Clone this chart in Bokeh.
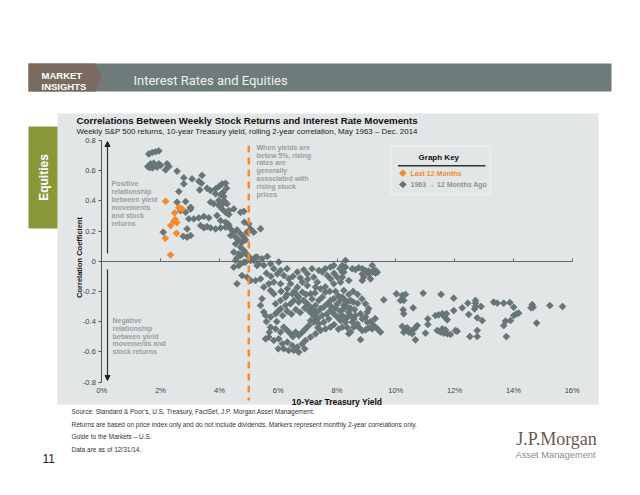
import math
from bokeh.plotting import figure
from bokeh.models import (LinearAxis, FixedTicker, Label, BoxAnnotation, PolyAnnotation,
                          Arrow, NormalHead, Range1d, CustomJSTickFormatter)
from bokeh.embed import file_html
from bokeh.resources import INLINE

# ---------------- data (10-yr yield %, 2-yr rolling correlation) ----------------
early_low_yield = [
    (1.60, 0.71), (1.72, 0.72), (1.83, 0.725), (1.94, 0.73), (1.56, 0.627), (1.66, 0.645),
    (1.77, 0.649), (1.94, 0.645), (2.00, 0.634), (1.88, 0.623), (2.22, 0.645), (2.28, 0.627),
    (2.17, 0.605), (1.62, 0.62), (1.72, 0.618), (2.56, 0.596),
]
positive_band = [
    (2.79, 0.552), (3.07, 0.545), (3.41, 0.569), (2.79, 0.512), (3.30, 0.530), (3.39, 0.516),
    (3.33, 0.472), (3.58, 0.483), (3.70, 0.468), (3.87, 0.479), (3.98, 0.494), (4.09, 0.512),
    (4.21, 0.516), (4.24, 0.483), (4.13, 0.457), (3.87, 0.446), (4.04, 0.441), (4.15, 0.428),
    (2.62, 0.461), (2.56, 0.391), (3.70, 0.391), (3.81, 0.380), (3.98, 0.369), (4.09, 0.346),
    (4.21, 0.324), (4.32, 0.309), (2.85, 0.395), (3.02, 0.357), (2.68, 0.335), (2.85, 0.324),
    (3.02, 0.346), (2.96, 0.280), (3.13, 0.280), (3.30, 0.287), (3.47, 0.296), (3.64, 0.287),
    (3.36, 0.236), (3.47, 0.221), (3.58, 0.229), (3.70, 0.221), (3.87, 0.214), (4.04, 0.221),
    (4.21, 0.225), (4.29, 0.247), (2.90, 0.214), (2.77, 0.165), (2.90, 0.159), (3.02, 0.170),
    (2.09, 0.192), (3.92, 0.302), (4.04, 0.269), (4.21, 0.258), (4.32, 0.236), (4.38, 0.214),
    (4.49, 0.192), (4.60, 0.207), (4.72, 0.181), (4.83, 0.159), (4.38, 0.170), (4.55, 0.159),
    (4.66, 0.137), (4.77, 0.126), (4.89, 0.141), (4.55, 0.115), (4.72, 0.093), (4.83, 0.071),
    (4.92, 0.048), (5.00, 0.031), (4.72, 0.037), (4.60, 0.022), (4.49, -0.040), (4.66, -0.029),
    (4.83, -0.007), (5.06, 0.004), (5.23, 0.026), (5.28, -0.029), (4.72, 0.324), (4.85, 0.258),
    (4.26, 0.380), (4.32, 0.335), (4.49, 0.346), (5.00, 0.247), (5.06, 0.214), (5.17, 0.192),
    (4.94, 0.192), (3.98, 0.402), (4.15, 0.402), (4.09, 0.375), (5.40, 0.215), (4.83, 0.330),
]
main_cluster = [
    (4.49, 0.060), (4.66, 0.049), (4.83, 0.053), (4.55, 0.005), (4.72, -0.017), (4.89, -0.006),
    (5.06, 0.016), (5.17, 0.005), (5.28, 0.027), (5.45, 0.016), (5.34, -0.017), (5.51, -0.028),
    (5.63, 0.031), (5.74, -0.017), (5.85, -0.050), (6.02, -0.006), (6.08, -0.061), (5.97, -0.084),
    (6.19, -0.095), (6.36, -0.117), (6.65, -0.072), (6.87, -0.057), (6.99, -0.084), (7.21, -0.106),
    (7.38, -0.061), (7.50, -0.072), (7.67, -0.095), (7.78, -0.117), (7.89, -0.150), (8.01, -0.106),
    (8.18, -0.072), (8.29, -0.039), (8.40, -0.128), (7.78, -0.039), (7.89, -0.028), (4.60, -0.150),
    (4.77, -0.095), (4.94, -0.106), (5.06, -0.128), (5.23, -0.128), (5.40, -0.117), (5.51, -0.172),
    (5.68, -0.150), (5.85, -0.139), (6.08, -0.150), (6.31, -0.183), (6.42, -0.150), (6.65, -0.172),
    (6.82, -0.139), (6.99, -0.161), (6.82, -0.205), (6.65, -0.227), (6.48, -0.216), (6.25, -0.238),
    (6.08, -0.260), (5.91, -0.282), (5.85, -0.216), (5.74, -0.194), (5.45, -0.249), (5.40, -0.293),
    (5.51, -0.337), (5.57, -0.359), (5.74, -0.370), (5.91, -0.348), (6.08, -0.315), (6.25, -0.293),
    (6.42, -0.282), (6.53, -0.260), (6.70, -0.271), (6.87, -0.260), (6.99, -0.282), (7.10, -0.304),
    (7.27, -0.293), (7.38, -0.260), (7.50, -0.238), (7.61, -0.205), (7.44, -0.183), (7.27, -0.172),
    (7.33, -0.139), (7.10, -0.216), (7.21, -0.326), (7.33, -0.337), (7.44, -0.315), (7.55, -0.304),
    (7.67, -0.282), (7.78, -0.260), (7.89, -0.249), (8.01, -0.282), (8.12, -0.260), (8.23, -0.293),
    (8.35, -0.271), (7.78, -0.326), (7.89, -0.348), (8.01, -0.370), (8.12, -0.393), (8.29, -0.382),
    (8.40, -0.359), (7.16, -0.348), (7.27, -0.370), (7.10, -0.393), (7.21, -0.404), (7.38, -0.415),
    (7.55, -0.404), (7.72, -0.382), (5.74, -0.437), (5.91, -0.448), (6.08, -0.470), (6.19, -0.437),
    (6.31, -0.459), (6.42, -0.481), (6.59, -0.470), (6.70, -0.492), (6.82, -0.470), (6.93, -0.448),
    (7.04, -0.426), (7.44, -0.459), (7.61, -0.448), (7.78, -0.437), (5.68, -0.503), (5.57, -0.514),
    (5.85, -0.525), (6.02, -0.514), (6.14, -0.547), (6.31, -0.536), (6.48, -0.558), (6.65, -0.569),
    (6.82, -0.547), (6.93, -0.525), (7.10, -0.503), (7.27, -0.481), (6.53, -0.591), (6.70, -0.602),
    (6.36, -0.591), (6.19, -0.580),
]
dense_core = [
    (6.00, -0.33), (6.15, -0.36), (6.30, -0.33), (6.45, -0.35), (6.60, -0.32), (6.75, -0.34),
    (6.90, -0.31), (7.05, -0.33), (7.20, -0.36), (7.35, -0.38), (7.50, -0.36), (7.65, -0.35),
    (7.80, -0.30), (7.95, -0.31), (8.10, -0.33), (8.30, -0.30), (8.45, -0.31), (8.60, -0.32),
    (8.70, -0.28), (8.55, -0.27), (8.40, -0.22), (8.55, -0.20), (8.70, -0.22), (8.85, -0.25),
    (6.10, -0.20), (6.30, -0.22), (6.55, -0.20), (6.70, -0.24), (6.95, -0.22), (7.15, -0.25),
    (7.25, -0.21), (7.60, -0.17), (7.75, -0.20), (7.95, -0.20), (8.05, -0.23), (5.60, -0.08),
    (5.75, -0.10), (6.30, -0.05), (6.50, -0.10), (6.75, -0.11), (7.00, -0.12), (7.15, -0.05),
    (7.60, -0.05), (7.90, -0.08), (8.10, -0.05), (5.60, -0.40), (5.70, -0.47), (5.95, -0.40),
    (6.00, -0.58), (6.50, -0.50), (6.90, -0.58), (7.35, -0.44), (7.90, -0.42), (8.05, -0.45),
    (8.35, -0.44), (8.40, -0.48), (9.15, -0.40), (9.30, -0.38),
]
high_yield_era = [
    (8.29, 0.005), (8.52, -0.050), (8.63, -0.055), (8.74, -0.044), (8.86, -0.050), (8.97, -0.061),
    (9.08, -0.066), (9.20, -0.073), (9.31, -0.079), (9.37, -0.073), (8.86, -0.084), (8.91, -0.106),
    (9.14, -0.117), (8.86, -0.128), (9.20, -0.028), (9.25, -0.061), (9.03, -0.073), (9.08, -0.084),
    (9.31, -0.061), (8.18, -0.028), (8.23, -0.073), (8.18, -0.106), (8.12, -0.139), (8.23, -0.194),
    (8.18, -0.238), (8.29, -0.260), (8.46, -0.260), (8.23, -0.315), (8.40, -0.337), (8.18, -0.359),
    (8.35, -0.370), (8.46, -0.359), (8.57, -0.382), (8.63, -0.359), (8.52, -0.404), (8.69, -0.415),
    (8.29, -0.404), (8.18, -0.437), (8.57, -0.437), (8.46, -0.470), (8.74, -0.437), (8.86, -0.459),
    (8.97, -0.455), (9.08, -0.441), (9.20, -0.448), (9.25, -0.426), (9.37, -0.448), (9.48, -0.470),
    (9.03, -0.404), (8.97, -0.370), (9.03, -0.337), (8.97, -0.282), (9.08, -0.315), (8.80, -0.348),
    (8.86, -0.382), (9.59, -0.256), (8.80, -0.520), (10.02, -0.216), (10.22, -0.227), (10.33, -0.220),
    (10.27, -0.260), (10.16, -0.260), (10.25, -0.322), (10.27, -0.348), (10.59, -0.309), (10.22, -0.432),
    (10.33, -0.448), (10.44, -0.470), (10.56, -0.459), (10.67, -0.441), (10.73, -0.426), (10.39, -0.441),
    (10.27, -0.470), (10.67, -0.521), (10.56, -0.481), (11.09, -0.382), (11.09, -0.419), (11.01, -0.477),
    (10.93, -0.212), (11.35, -0.360), (11.46, -0.355), (11.58, -0.348), (11.66, -0.370), (11.75, -0.388),
    (11.72, -0.348), (11.54, -0.220), (11.97, -0.245), (11.41, -0.459), (11.52, -0.470), (11.63, -0.477),
    (11.75, -0.481), (11.86, -0.485), (11.69, -0.455), (11.58, -0.448), (12.03, -0.459),
]
peak_yield_era = [
    (11.97, -0.327), (12.26, -0.309), (12.45, -0.278), (12.48, -0.353), (12.71, -0.260), (12.71, -0.278),
    (12.71, -0.300), (12.68, -0.316), (12.90, -0.300), (12.77, -0.375), (12.94, -0.393), (12.09, -0.464),
    (12.77, -0.459), (12.77, -0.499), (12.52, -0.499), (13.33, -0.271), (13.45, -0.278), (13.67, -0.278),
    (13.88, -0.274), (14.01, -0.305), (14.01, -0.360), (14.10, -0.349), (14.18, -0.344), (13.90, -0.393),
    (13.73, -0.397), (13.67, -0.426), (13.76, -0.499), (14.64, -0.287), (14.67, -0.305), (14.60, -0.309),
    (14.79, -0.410), (15.24, -0.294), (15.67, -0.300),
]
last_12_months_yield = [2.17, 2.48, 2.62, 2.68, 2.73, 2.50, 2.45, 2.55, 2.34, 2.54, 2.16, 2.34]
last_12_months_corr = [0.397, 0.320, 0.355, 0.350, 0.345, 0.275, 0.265, 0.255, 0.236, 0.185, 0.152, 0.042]

x_ticks = [0, 2, 4, 6, 8, 10, 12, 14, 16]
x_tick_labels = ["0%", "2%", "4%", "6%", "8%", "10%", "12%", "14%", "16%"]
y_ticks = [-0.8, -0.6, -0.4, -0.2, 0, 0.2, 0.4, 0.6, 0.8]
y_tick_labels = ["-0.8", "-0.6", "-0.4", "-0.2", "0", "0.2", "0.4", "0.6", "0.8"]
threshold_yield = 5.0

gray_pts = early_low_yield + positive_band + main_cluster + dense_core + high_yield_era + peak_yield_era
gray_x = [a for a, b in gray_pts]
gray_y = [b for a, b in gray_pts]

# ---------------- styling ----------------
PANEL = "#e2e6e6"
GRAY = "#687575"
ORANGE = "#f5892b"
NOTE = "#9aa0a0"
SANS = "Liberation Sans"
MSIZE = 4.8

W, H = 624, 479
OFF = 0          # page offset of the canvas
# page-pixel position of x=0 / y=0 and pixels per unit (frame covers the whole canvas)
X0, XS = 101.3, 29.4
Y0, YS = 260.7, 151.0


def dx(px):
    return (px - X0) / XS


def dy(py):
    return (Y0 - py) / YS


p = figure(width=W, height=H, output_backend="svg", toolbar_location=None, title=None,
           x_range=Range1d(dx(OFF), dx(OFF + W)), y_range=Range1d(dy(OFF + H), dy(OFF)),
           x_axis_location=None, y_axis_location=None,
           min_border=0, background_fill_color="white", border_fill_color="white",
           outline_line_color=None)
p.grid.visible = False


def box(l, t, r, b, color, level="underlay", line_color=None, line_width=1, alpha=1.0):
    p.add_layout(BoxAnnotation(left=dx(l), right=dx(r), top=dy(t), bottom=dy(b),
                               fill_color=color, fill_alpha=alpha, line_color=line_color,
                               line_width=line_width, level=level))


def label(px, py, text, size, color, bold=False, font=SANS, align="left", angle=0.0):
    p.add_layout(Label(x=dx(px), y=dy(py), text=text, text_font=font,
                       text_font_size=f"{size}px", text_color=color,
                       text_font_style="bold" if bold else "normal",
                       text_align=align, text_baseline="middle", angle=angle))


# slide decorations
box(57, 113, 598, 404, PANEL)
box(28, 63, 611, 91, "#6f7b7b")
p.add_layout(PolyAnnotation(xs=[dx(28), dx(95), dx(101), dx(95), dx(28)],
                            ys=[dy(63), dy(63), dy(77), dy(91), dy(91)],
                            fill_color="#7a6a60", fill_alpha=1, line_color=None, level="underlay"))
label(41, 75, "MARKET", 9.5, "white", bold=True)
label(41, 86, "INSIGHTS", 9.5, "white", bold=True)
label(133, 80, "Interest Rates and Equities", 13, "#eef1ef", font="Roboto")
box(28, 126, 57, 228, "#8a9739")
label(43, 177, "Equities", 12, "white", bold=True, align="center", angle=math.pi / 2)

label(76, 120, "Correlations Between Weekly Stock Returns and Interest Rate Movements", 9.7, "#111", bold=True)
label(76, 131, "Weekly S&P 500 returns, 10-year Treasury yield, rolling 2-year correlation, May 1963 \u2013 Dec. 2014",
      7.9, "#222")

# axis titles
label(79, 257, "Correlation Coefficient", 7.5, "#111", bold=True, align="center", angle=math.pi / 2)
label(336.5, 401, "10-Year Treasury Yield", 8.5, "#111", bold=True, align="center")

# explanatory notes
for i, t in enumerate(["Positive", "relationship", "between yield", "movements", "and stock", "returns"]):
    label(111, 183.3 + 7.9 * i, t, 7, NOTE, bold=True)
for i, t in enumerate(["Negative", "relationship", "between yield", "movements and", "stock returns"]):
    label(112, 320 + 7.75 * i, t, 7, NOTE, bold=True)
for i, t in enumerate(["When yields are", "below 5%, rising", "rates are", "generally",
                       "associated with", "rising stock", "prices"]):
    label(256, 146.7 + 7.8 * i, t, 7, NOTE, bold=True)

# arrows
p.add_layout(Arrow(end=NormalHead(size=5, fill_color="#222", line_color="#222"),
                   x_start=dx(107), y_start=dy(253), x_end=dx(107), y_end=dy(141),
                   line_color="#333", line_width=1.2))
p.add_layout(Arrow(end=NormalHead(size=5, fill_color="#222", line_color="#222"),
                   x_start=dx(107), y_start=dy(269), x_end=dx(107), y_end=dy(380),
                   line_color="#333", line_width=1.2))

# axes (fixed at data coordinates inside the full-canvas frame)
yaxis = LinearAxis(fixed_location=0, ticker=FixedTicker(ticks=y_ticks), bounds=(-0.8, 0.8),
                   major_label_overrides=dict(zip(y_ticks, y_tick_labels)),
                   major_tick_in=0, major_tick_out=3, minor_tick_line_color=None,
                   axis_line_color="#555", major_tick_line_color="#555",
                   major_label_text_font=SANS, major_label_text_font_size="7.5px",
                   major_label_text_color="#444", major_label_standoff=3)
p.add_layout(yaxis, "left")

zero_axis = LinearAxis(fixed_location=0, ticker=FixedTicker(ticks=x_ticks), bounds=(0, 16),
                       formatter=CustomJSTickFormatter(code="return ''"),
                       major_tick_in=3, major_tick_out=0, minor_tick_line_color=None,
                       axis_line_color="#666", major_tick_line_color="#666")
p.add_layout(zero_axis, "below")

label_axis = LinearAxis(fixed_location=-0.8, ticker=FixedTicker(ticks=x_ticks), bounds=(0, 16),
                        major_label_overrides=dict(zip(x_ticks, x_tick_labels)),
                        axis_line_color=None, major_tick_line_color=None, minor_tick_line_color=None,
                        major_tick_in=0, major_tick_out=0, major_label_standoff=4,
                        major_label_text_font=SANS, major_label_text_font_size="7.5px",
                        major_label_text_color="#444")
p.add_layout(label_axis, "below")

# data marks
p.scatter(gray_x, gray_y, marker="square", size=MSIZE, angle=math.pi / 4,
          fill_color=GRAY, line_color=GRAY, line_width=0.8)
p.segment(x0=[threshold_yield], y0=[dy(145)], x1=[threshold_yield], y1=[dy(400)],
          line_color=ORANGE, line_width=2.5, line_dash="7 5")
p.scatter(last_12_months_yield, last_12_months_corr, marker="square", size=MSIZE, angle=math.pi / 4,
          fill_color=ORANGE, line_color=ORANGE, line_width=0.8)

# graph key
box(390.7, 145.7, 489.3, 194, PANEL, level="annotation", line_color="white", line_width=2, alpha=0.0)
label(438.3, 156.7, "Graph Key", 8, "#111", bold=True, align="center")
p.segment(x0=[dx(397.5)], y0=[dy(165.3)], x1=[dx(485)], y1=[dy(165.3)], line_color="#333", line_width=1.5)
p.scatter([dx(402.3)], [dy(172.7)], marker="square", size=MSIZE, angle=math.pi / 4,
          fill_color=ORANGE, line_color=ORANGE, line_width=0.8)
label(410, 172.7, "Last 12 Months", 7, ORANGE, bold=True)
p.scatter([dx(402.3)], [dy(184)], marker="square", size=MSIZE, angle=math.pi / 4,
          fill_color=GRAY, line_color=GRAY, line_width=0.8)
label(410, 184, "1963 \u2192 12 Months Ago", 7, "#8d9393", bold=True)

# footnotes
notes = ["Source: Standard & Poor\u2019s, U.S. Treasury, FactSet, J.P. Morgan Asset Management.",
         "Returns are based on price index only and do not include dividends. Markers represent monthly 2-year correlations only.",
         "Guide to the Markets \u2013 U.S.",
         "Data are as of 12/31/14."]
for i, t in enumerate(notes):
    label(71, 411 + 12.7 * i, t, 6.5, "#333")
label(42, 458, "11", 12, "#222")
label(556, 438, "J.P.Morgan", 18, "#6a5a4e", font="Liberation Serif", align="center")
label(555, 454, "Asset Management", 9.3, "#8a8a8a", align="center")

open("out.html", "w").write(file_html(p, INLINE))
